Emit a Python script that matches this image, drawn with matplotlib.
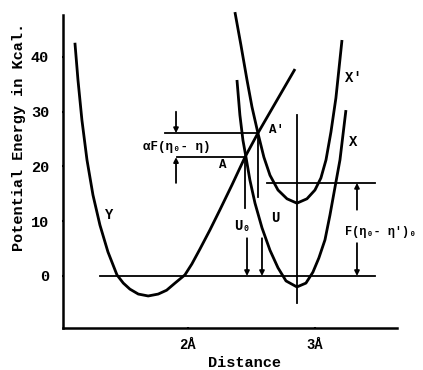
import matplotlib
matplotlib.use("Agg")
import matplotlib.pyplot as plt

# values (distance in angstrom, energy in kcal)
y_dist = [1.110, 1.134, 1.165, 1.205, 1.252, 1.307, 1.370, 1.441, 1.491, 1.543,
          1.609, 1.687, 1.766, 1.832, 1.898, 1.976, 2.031, 2.094, 2.173, 2.252,
          2.346, 2.449, 2.551, 2.843]
y_energy = [42.6, 35.8, 28.5, 21.2, 14.8, 9.3, 4.4, 0.2, -1.3, -2.4,
            -3.3, -3.65, -3.3, -2.6, -1.3, 0.2, 2.2, 4.9, 8.4, 12.1,
            16.6, 21.7, 26.1, 37.8]

xp_dist = [2.370, 2.417, 2.465, 2.504, 2.551, 2.598, 2.646, 2.709, 2.780, 2.858,
           2.937, 3.000, 3.047, 3.087, 3.126, 3.165, 3.213]
xp_energy = [48.2, 42.2, 35.8, 30.9, 26.1, 21.7, 18.4, 15.7, 14.1, 13.3,
             14.1, 15.7, 17.9, 21.2, 26.3, 32.5, 43.1]

x_dist = [2.386, 2.409, 2.433, 2.457, 2.488, 2.528, 2.583, 2.646, 2.709, 2.772,
          2.858, 2.929, 2.984, 3.031, 3.079, 3.118, 3.157, 3.197, 3.244]
x_energy = [35.8, 29.4, 24.8, 21.7, 17.5, 13.3, 8.8, 4.7, 1.5, -0.9,
            -2.0, -1.3, 0.7, 3.3, 6.6, 11.1, 16.1, 21.2, 30.3]

# crossing points A (Y with X) and A' (Y with X')
a_pt = (2.449, 21.7)
a2_pt = (2.551, 26.1)
x_min_dist = 2.858
f_level = 17.0

yticks = [0, 10, 20, 30, 40]
xticks = [2, 3]
xtick_labels = ["2Å", "3Å"]

mono = ["Liberation Mono", "DejaVu Sans Mono"]

fig = plt.figure(figsize=(4.23, 3.70), dpi=100)
ax = fig.add_axes([0.1489, 0.1135, 0.7896, 0.8649])
ax.set_xlim(1.016, 3.646)
ax.set_ylim(-9.5, 48.95)

lw = 2.0
for xs, ys in [(y_dist, y_energy), (xp_dist, xp_energy), (x_dist, x_energy)]:
    ax.plot(xs, ys, color="black", lw=lw, solid_capstyle="butt", solid_joinstyle="round")

thin = 1.3
# zero level and F level
ax.plot([1.307, 3.472], [0, 0], color="black", lw=thin)
ax.plot([2.622, 3.472], [f_level, f_level], color="black", lw=thin)
# vertical through the minima
ax.plot([x_min_dist, x_min_dist], [29.4, -4.9], color="black", lw=thin)
# horizontals at A and A'
ax.plot([1.819, a2_pt[0]], [a2_pt[1], a2_pt[1]], color="black", lw=thin)
ax.plot([1.913, a_pt[0]], [a_pt[1], a_pt[1]], color="black", lw=thin)
# verticals down from A and A'
ax.plot([a_pt[0], a_pt[0]], [a_pt[1], 12.4], color="black", lw=thin)
ax.plot([a2_pt[0], a2_pt[0]], [a2_pt[1], 14.4], color="black", lw=thin)


def arrow(x, y0, y1):
    ax.annotate("", xy=(x, y1), xytext=(x, y0),
                arrowprops=dict(arrowstyle="-|>", color="black", lw=thin,
                                mutation_scale=7, shrinkA=0, shrinkB=0))


arrow(1.906, 30.0, a2_pt[1])
arrow(1.906, 17.0, a_pt[1])
arrow(2.465, 6.9, 0)
arrow(2.583, 6.9, 0)
arrow(3.331, 12.1, f_level)
arrow(3.331, 6.0, 0)

lab = dict(family=mono, fontweight="bold", color="black")
ax.text(1.370, 11.1, "Y", fontsize=10, ha="center", va="center", **lab)
ax.text(2.276, 20.3, "A", fontsize=9, ha="center", va="center", **lab)
ax.text(2.701, 26.7, "A'", fontsize=9, ha="center", va="center", **lab)
ax.text(3.300, 36.2, "X'", fontsize=10, ha="center", va="center", **lab)
ax.text(3.300, 24.5, "X", fontsize=10, ha="center", va="center", **lab)
ax.text(2.433, 9.1, "U₀", fontsize=10, ha="center", va="center", **lab)
ax.text(2.685, 10.6, "U", fontsize=10, ha="center", va="center", **lab)
ax.text(1.913, 23.6, "αF(η₀- η)", fontsize=9, ha="center", va="center", **lab)
ax.text(3.237, 8.0, "F(η₀- η')₀", fontsize=8.6, ha="left", va="center",
        clip_on=False, **lab)

ax.spines["top"].set_visible(False)
ax.spines["right"].set_visible(False)
ax.spines["left"].set_bounds(-9.5, 47.7)
ax.spines["left"].set_linewidth(1.8)
ax.spines["bottom"].set_linewidth(1.8)

ax.set_yticks(yticks)
ax.set_yticklabels([str(v) for v in yticks], family=mono, fontweight="bold", fontsize=11)
ax.set_xticks(xticks)
ax.set_xticklabels(xtick_labels, family=mono, fontweight="bold", fontsize=10)
ax.tick_params(axis="y", length=2, width=1.5, direction="inout", pad=9)
ax.tick_params(axis="x", length=2, width=1.5, direction="inout", pad=6)

fig.text(0.045, 0.63, "Potential Energy in Kcal.", rotation=90, ha="center", va="center",
         family=mono, fontweight="bold", fontsize=11)
fig.text(0.577, 0.019, "Distance", ha="center", va="center",
         family=mono, fontweight="bold", fontsize=11)

fig.savefig("out.png", dpi=100)
